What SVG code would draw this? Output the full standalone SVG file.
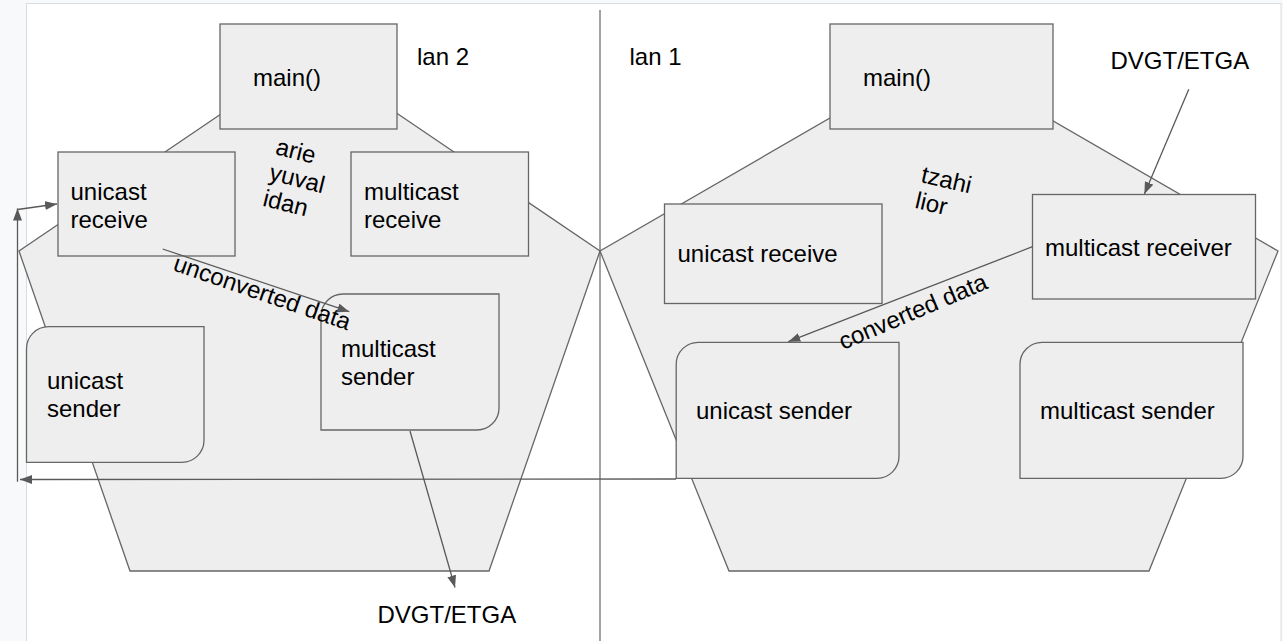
<svg xmlns="http://www.w3.org/2000/svg" width="1283" height="641" viewBox="0 0 1283 641">
<style>
.pg{fill:#eeeeee;stroke:#666666;stroke-width:1.3}
.bx{fill:#eeeeee;stroke:#666666;stroke-width:1.3}
.t{font-family:"Liberation Sans",Arial,sans-serif;font-size:24px;fill:#000000}
.c{fill:none;stroke:#595959;stroke-width:1.3}
</style>
<defs>
<marker id="ah" markerUnits="userSpaceOnUse" markerWidth="13" markerHeight="10" refX="12" refY="4.5" orient="auto">
<path d="M0,0 L12,4.5 L0,9 z" fill="#595959"/>
</marker>
</defs>
<rect x="0" y="0" width="1283" height="641" fill="#f8f9fa"/>
<rect x="26.5" y="3.5" width="1254.5" height="645" fill="#ffffff" stroke="#dadce0" stroke-width="1"/>

<g id="lan2-area">
<polygon class="pg" points="309.5,54 600,251 489,571 130,571 19,251"/>
</g>
<g id="lan1-area">
<polygon class="pg" points="939,55 1278,251 1149,571 729,571 600,251"/>
</g>
<line x1="600" y1="10" x2="600" y2="641" stroke="#666666" stroke-width="1.2"/>

<g id="main-left">
<rect class="bx" x="220" y="24" width="177" height="105"/>
<text class="t" x="253" y="86">main()</text>
</g>
<g id="lan2-label"><text class="t" x="417" y="65">lan 2</text></g>
<g id="unicast-receive-left">
<rect class="bx" x="58" y="152" width="177" height="104"/>
<text class="t" x="70.5" y="199.5">unicast</text>
<text class="t" x="70.5" y="227.5">receive</text>
</g>
<g id="multicast-receive-left">
<rect class="bx" x="351" y="152" width="177.5" height="104"/>
<text class="t" x="364" y="199.5">multicast</text>
<text class="t" x="364" y="227.5">receive</text>
</g>
<g id="names-left" transform="translate(274.5,154) rotate(14)">
<text class="t" x="0" y="0">arie</text>
<text class="t" x="0" y="26.5">yuval</text>
<text class="t" x="0" y="53">idan</text>
</g>
<g id="unicast-sender-left">
<path class="bx" d="M48.5,326.7 H204 V440.3 A22,22 0 0 1 182,462.3 H26.5 V348.7 A22,22 0 0 1 48.5,326.7 Z"/>
<text class="t" x="47" y="388.5">unicast</text>
<text class="t" x="47" y="416.5">sender</text>
</g>
<g id="multicast-sender-left">
<path class="bx" d="M343,294 H499 V408 A22,22 0 0 1 477,430 H321 V316 A22,22 0 0 1 343,294 Z"/>
<text class="t" x="341" y="356.5">multicast</text>
<text class="t" x="341" y="384.5">sender</text>
</g>
<g id="dvgt-bottom"><text class="t" x="377.5" y="622.5">DVGT/ETGA</text></g>

<g id="lan1-label"><text class="t" x="629.5" y="65">lan 1</text></g>
<g id="main-right">
<rect class="bx" x="830" y="24" width="223" height="105"/>
<text class="t" x="863" y="86">main()</text>
</g>
<g id="dvgt-top"><text class="t" x="1110.5" y="68.5">DVGT/ETGA</text></g>
<g id="names-right" transform="translate(920,182) rotate(13)">
<text class="t" x="0" y="0">tzahi</text>
<text class="t" x="0" y="26.5">lior</text>
</g>
<g id="unicast-receive-right">
<rect class="bx" x="664.5" y="204" width="217.5" height="99.5"/>
<text class="t" x="677.5" y="262">unicast receive</text>
</g>
<g id="multicast-receiver-right">
<rect class="bx" x="1032.5" y="194.5" width="223" height="104.5"/>
<text class="t" x="1045" y="256">multicast receiver</text>
</g>
<g id="unicast-sender-right">
<path class="bx" d="M698.5,342.3 H899 V456.3 A22,22 0 0 1 877,478.3 H676.2 V364.3 A22,22 0 0 1 698.5,342.3 Z"/>
<text class="t" x="696" y="418.5">unicast sender</text>
</g>
<g id="multicast-sender-right">
<path class="bx" d="M1042,342.3 H1243 V456.3 A22,22 0 0 1 1221,478.3 H1020 V364.3 A22,22 0 0 1 1042,342.3 Z"/>
<text class="t" x="1040" y="418.5">multicast sender</text>
</g>

<g id="connectors">
<line class="c" x1="162.7" y1="249" x2="349.3" y2="311.7" marker-end="url(#ah)"/>
<text class="t" transform="translate(172,270) rotate(19)">unconverted data</text>
<line class="c" x1="410" y1="431" x2="455" y2="587.5" marker-end="url(#ah)"/>
<line class="c" x1="676.2" y1="479" x2="20" y2="479.5" marker-end="url(#ah)"/>
<line class="c" x1="17.5" y1="481.7" x2="17.5" y2="208.5" marker-end="url(#ah)"/>
<line class="c" x1="17.5" y1="209.5" x2="57" y2="204" marker-end="url(#ah)"/>
<line class="c" x1="1188.8" y1="89.3" x2="1144.4" y2="194" marker-end="url(#ah)"/>
<line class="c" x1="1032.5" y1="246.7" x2="788.3" y2="341.7" marker-end="url(#ah)"/>
<text class="t" transform="translate(843,350) rotate(-23)">converted data</text>
</g>
</svg>
